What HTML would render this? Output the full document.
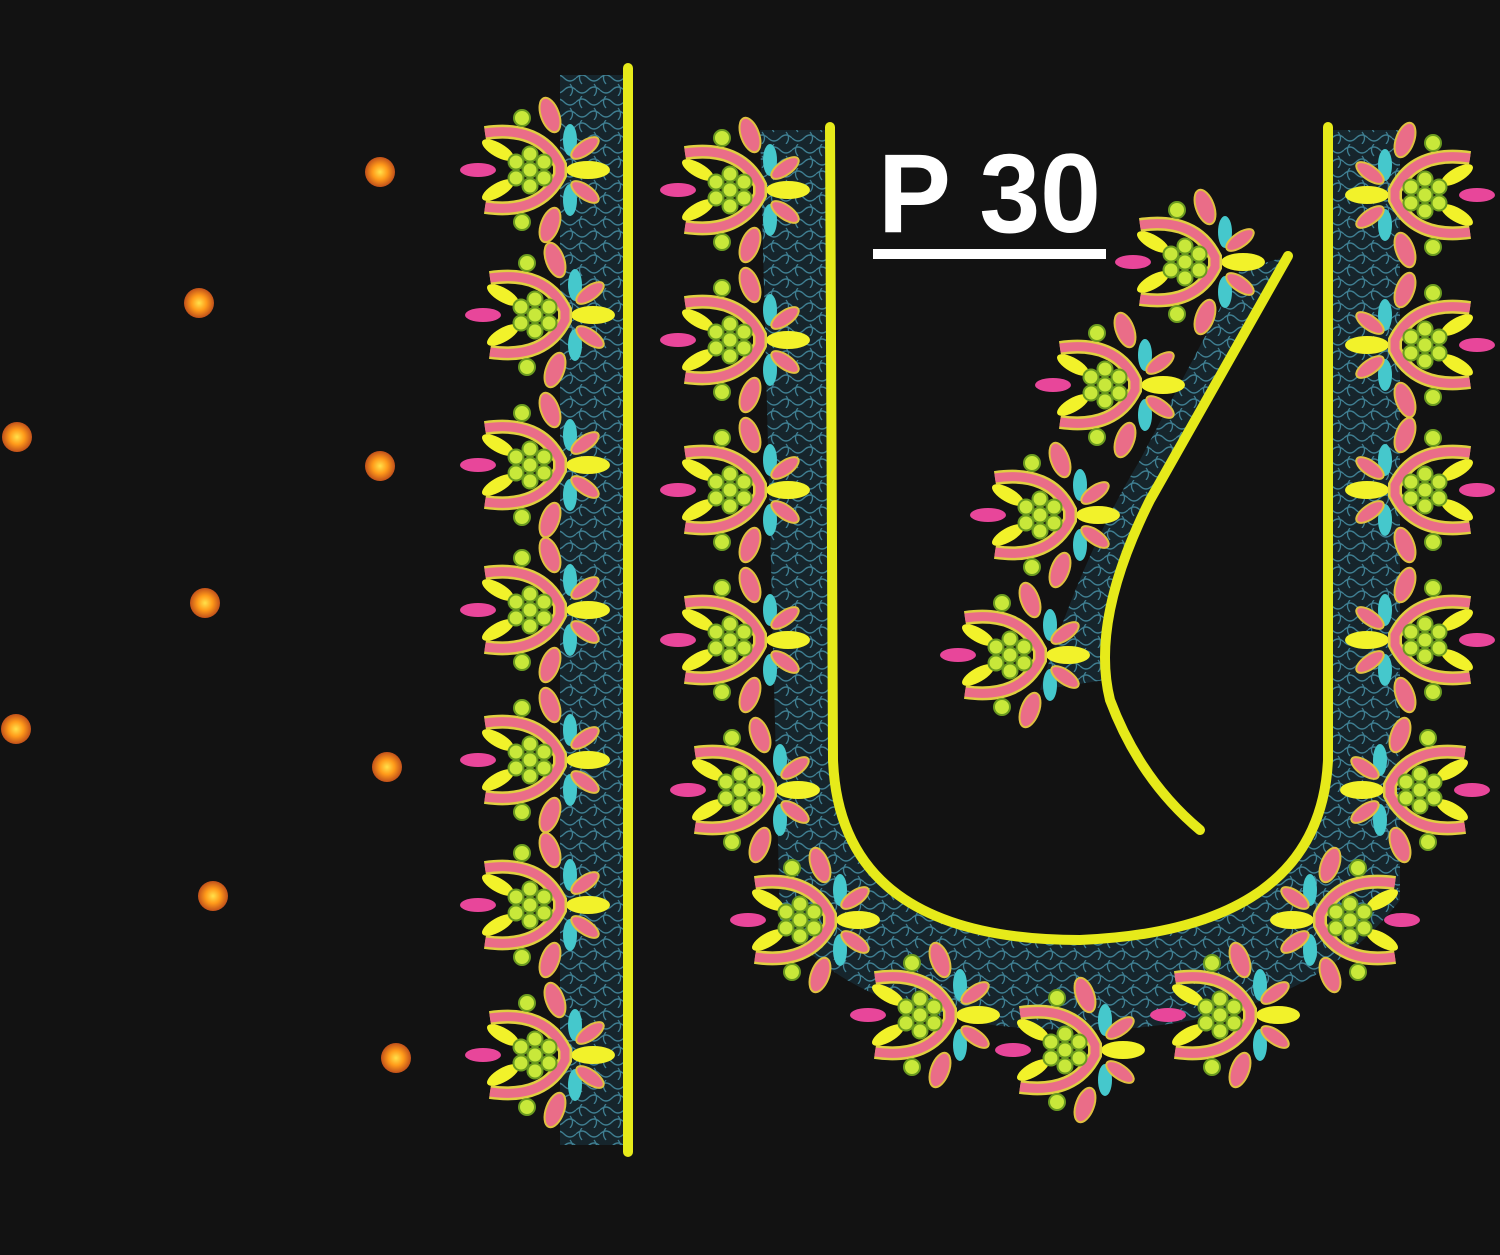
<!DOCTYPE html>
<html><head><meta charset="utf-8">
<style>
html,body{margin:0;padding:0;background:#121212;}
svg{display:block;}
</style></head>
<body>
<svg width="1500" height="1255" viewBox="0 0 1500 1255" xmlns="http://www.w3.org/2000/svg">
<defs>
  <pattern id="squig" width="24" height="24" patternUnits="userSpaceOnUse">
    <rect width="24" height="24" fill="#16252c"/>
    <path d="M0,6 q6,-6 12,0 t12,0 M0,18 q6,6 12,0 t12,0 M6,0 q-5,6 0,12 M18,12 q5,6 0,12" stroke="#3f7f92" stroke-width="1.3" fill="none"/>
  </pattern>
  <radialGradient id="dotg">
    <stop offset="0" stop-color="#ffe14a"/>
    <stop offset="0.5" stop-color="#ff9a1a"/>
    <stop offset="1" stop-color="#c0501a"/>
  </radialGradient>
  <g id="flower">
    <ellipse cx="-52" cy="0" rx="18" ry="7" fill="#e8469a"/>
    <ellipse cx="-32" cy="-20" rx="18" ry="7" transform="rotate(30 -32 -20)" fill="#f2f22a"/>
    <ellipse cx="-32" cy="20" rx="18" ry="7" transform="rotate(-30 -32 20)" fill="#f2f22a"/>
    <ellipse cx="20" cy="-55" rx="9" ry="18" transform="rotate(-20 20 -55)" fill="#ea6d88" stroke="#e0c040" stroke-width="2"/>
    <ellipse cx="20" cy="55" rx="9" ry="18" transform="rotate(20 20 55)" fill="#ea6d88" stroke="#e0c040" stroke-width="2"/>
    <ellipse cx="40" cy="-30" rx="7" ry="16" fill="#45c8cc"/>
    <ellipse cx="40" cy="30" rx="7" ry="16" fill="#45c8cc"/>
    <ellipse cx="55" cy="-22" rx="16" ry="7" transform="rotate(-35 55 -22)" fill="#ea6d88" stroke="#e0c040" stroke-width="2"/>
    <ellipse cx="55" cy="22" rx="16" ry="7" transform="rotate(35 55 22)" fill="#ea6d88" stroke="#e0c040" stroke-width="2"/>
    <ellipse cx="58" cy="0" rx="22" ry="9" fill="#f2f22a"/>
    <path d="M-45,-37 Q10,-45 30,-5 L30,5 Q10,45 -45,37" stroke="#e0d040" stroke-width="14" fill="none"/>
    <path d="M-45,-37 Q10,-45 30,-5 L30,5 Q10,45 -45,37" stroke="#ea6d88" stroke-width="9" fill="none"/>
    <circle cx="-8" cy="-52" r="8" fill="#c8e83a" stroke="#6a9a20" stroke-width="2"/>
    <circle cx="-8" cy="52" r="8" fill="#c8e83a" stroke="#6a9a20" stroke-width="2"/>
    <g fill="#c8e83a" stroke="#6a9a20" stroke-width="2">
      <circle cx="0" cy="0" r="7.5"/><circle cx="-14" cy="-8" r="7.5"/><circle cx="14" cy="-8" r="7.5"/>
      <circle cx="-14" cy="8" r="7.5"/><circle cx="14" cy="8" r="7.5"/><circle cx="0" cy="-16" r="7.5"/>
      <circle cx="0" cy="16" r="7.5"/>
    </g>
  </g>
</defs>
<rect width="1500" height="1255" fill="#121212"/>

<g>
  <circle cx="380" cy="172" r="15" fill="url(#dotg)"/>
  <circle cx="199" cy="303" r="15" fill="url(#dotg)"/>
  <circle cx="17" cy="437" r="15" fill="url(#dotg)"/>
  <circle cx="380" cy="466" r="15" fill="url(#dotg)"/>
  <circle cx="205" cy="603" r="15" fill="url(#dotg)"/>
  <circle cx="16" cy="729" r="15" fill="url(#dotg)"/>
  <circle cx="387" cy="767" r="15" fill="url(#dotg)"/>
  <circle cx="213" cy="896" r="15" fill="url(#dotg)"/>
  <circle cx="396" cy="1058" r="15" fill="url(#dotg)"/>
</g>

<g>
  <rect x="560" y="75" width="66" height="1070" fill="url(#squig)"/>
  <path d="M760,130 L830,130 L833,760 Q840,940 1080,940 Q1320,930 1328,760 L1328,130 L1400,130 L1400,900 Q1300,1030 1080,1030 Q860,1030 780,920 Z" fill="url(#squig)"/>
  <path d="M1240,270 L1288,256 L1150,500 Q1090,610 1105,680 L1040,690 Q1080,560 1140,460 Z" fill="url(#squig)"/>
</g>

<g stroke="#e6ea1a" fill="none" stroke-width="10" stroke-linecap="round">
  <line x1="628" y1="68" x2="628" y2="1152"/>
  <path d="M830,127 L833,760 Q840,940 1080,940 Q1320,930 1328,760 L1328,127"/>
  <path d="M1288,256 L1150,500 Q1090,620 1110,700 Q1140,780 1200,830"/>
</g>

<g>
  <use href="#flower" x="530" y="170"/><use href="#flower" x="535" y="315"/>
  <use href="#flower" x="530" y="465"/><use href="#flower" x="530" y="610"/>
  <use href="#flower" x="530" y="760"/><use href="#flower" x="530" y="905"/>
  <use href="#flower" x="535" y="1055"/>
</g>
<g>
  <use href="#flower" x="730" y="190"/><use href="#flower" x="730" y="340"/>
  <use href="#flower" x="730" y="490"/><use href="#flower" x="730" y="640"/>
  <use href="#flower" x="740" y="790"/>
  <use href="#flower" x="800" y="920"/><use href="#flower" x="920" y="1015"/>
  <use href="#flower" x="1065" y="1050"/><use href="#flower" x="1220" y="1015"/>
  <use href="#flower" transform="translate(1350,920) scale(-1,1)"/>
  <use href="#flower" transform="translate(1425,195) scale(-1,1)"/>
  <use href="#flower" transform="translate(1425,345) scale(-1,1)"/>
  <use href="#flower" transform="translate(1425,490) scale(-1,1)"/>
  <use href="#flower" transform="translate(1425,640) scale(-1,1)"/>
  <use href="#flower" transform="translate(1420,790) scale(-1,1)"/>
</g>
<g>
  <use href="#flower" x="1185" y="262"/><use href="#flower" x="1105" y="385"/>
  <use href="#flower" x="1040" y="515"/><use href="#flower" x="1010" y="655"/>
</g>

<text x="878" y="232" font-family="Liberation Sans, sans-serif" font-weight="bold" font-size="112" textLength="223" lengthAdjust="spacingAndGlyphs" fill="#ffffff">P 30</text>
<rect x="873" y="249" width="233" height="10" fill="#ffffff"/>
</svg>
</body></html>
